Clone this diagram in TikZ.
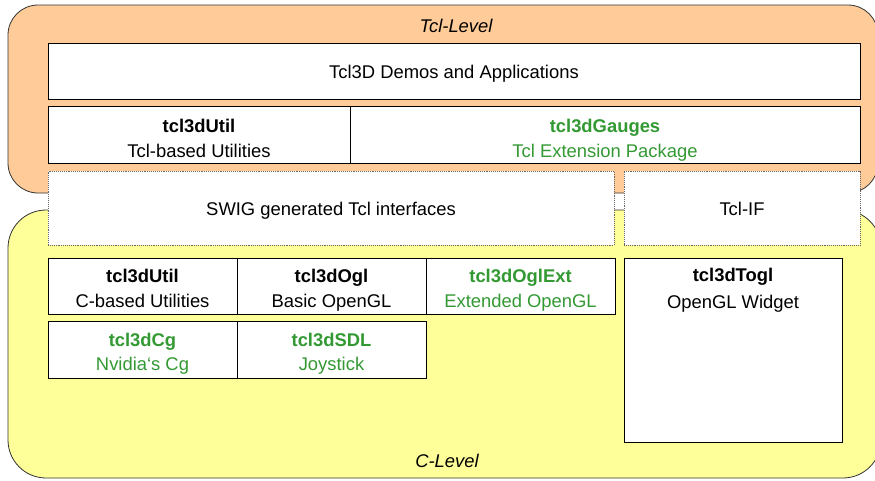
\documentclass[tikz,border=0pt]{standalone}
\usepackage{fontspec}
\setmainfont{Liberation Sans}
\usetikzlibrary{positioning}
\definecolor{tclorange}{RGB}{255,204,153}
\definecolor{cyellow}{RGB}{255,255,153}
\definecolor{extgreen}{RGB}{51,153,51}

\begin{document}
\begin{tikzpicture}
    [   x = 1pt, y = -1pt
    ,   font = \fontsize{18.4}{24.5}\selectfont
    ,   level/.style = {draw = black!80, line width = 0.8pt}
    ,   cell/.style = {draw, fill = white, line width = 0.9pt, inner sep = 0pt, outer sep = 0pt, align = center, anchor = north west, text depth = 4pt, text height = 46pt}
    ,   oneline/.style = {text height = 19.5pt}
    ,   tclline/.style = {text height = 49pt}
    ,   ifcell/.style = {cell, oneline, draw = black!60, densely dotted}
    ,   ext/.style = {text = extgreen}
    ]
    \useasboundingbox (0,0) rectangle (875,480);
    \clip (0,0) rectangle (875,480);

    % the two levels
    \draw[level, fill = tclorange, rounded corners = 30pt] (8,5) rectangle (878,193);
    \draw[level, fill = cyellow, rounded corners = 38pt] (8,210) rectangle (881,478);
    \node[font = \fontsize{18.4}{24.5}\selectfont\itshape] (tcllevel) at (456,26) {Tcl-Level};
    \node[font = \fontsize{18.4}{24.5}\selectfont\itshape] (clevel) at (447,461) {C-Level};

    % Tcl level
    \node[cell, oneline, minimum width = 812pt, minimum height = 56pt] (demos) at (48,43) {Tcl3D Demos and Applications};
    \node[cell, tclline, minimum width = 302pt, minimum height = 57pt] (tclutil) at (48,106)
        {\textbf{tcl3dUtil}\\Tcl-based Utilities};
    \node[cell, tclline, ext, minimum width = 510pt, minimum height = 57pt, right = 0pt of tclutil] (gauges)
        {\textbf{tcl3dGauges}\\Tcl Extension Package};

    % interfaces
    \node[ifcell, minimum width = 566pt, minimum height = 74pt] (swig) at (48,171) {SWIG generated Tcl interfaces};
    \node[ifcell, minimum width = 236pt, minimum height = 74pt] (tclif) at (624,171) {Tcl-IF};

    % C level
    \node[cell, minimum width = 189pt, minimum height = 56pt] (cutil) at (48,258)
        {\textbf{tcl3dUtil}\\C-based Utilities};
    \node[cell, minimum width = 189pt, minimum height = 56pt, right = 0pt of cutil] (ogl)
        {\textbf{tcl3dOgl}\\Basic OpenGL};
    \node[cell, ext, minimum width = 189pt, minimum height = 56pt, right = 0pt of ogl] (oglext)
        {\textbf{tcl3dOglExt}\\Extended OpenGL};
    \node[cell, ext, minimum width = 189pt, minimum height = 57pt] (cg) at (48,321)
        {\textbf{tcl3dCg}\\Nvidia`s Cg};
    \node[cell, ext, minimum width = 189pt, minimum height = 57pt, right = 0pt of cg] (sdl)
        {\textbf{tcl3dSDL}\\Joystick};

    \node[cell, minimum width = 218pt, minimum height = 184pt] (togl) at (624,258) {};
    \node[anchor = base, align = center, inner sep = 0pt, font = \fontsize{18.4}{26.5}\selectfont] (togltext) at (733,308)
        {\textbf{tcl3dTogl}\\OpenGL Widget};
\end{tikzpicture}
\end{document}
